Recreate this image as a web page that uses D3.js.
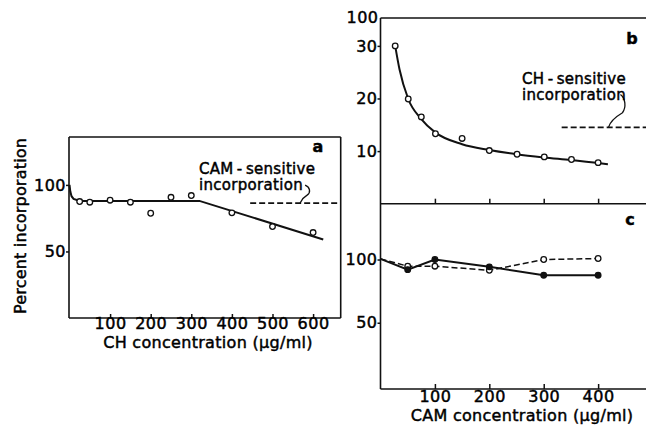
<!DOCTYPE html>
<html>
<head>
<meta charset="utf-8">
<script src="https://cdn.jsdelivr.net/npm/d3@7"></script>
<style>
  body { margin: 0; background: #fff; }
  svg text { font-family: "DejaVu Sans", sans-serif; fill: #000; stroke: #000; stroke-width: 0.45px; }
</style>
</head>
<body>
<div id="chart"></div>
<script>
// panel a: CH concentration vs percent incorporation
var aConc = [25, 50, 100, 150, 200, 250, 300, 400, 500, 600];
var aPercent = [87.5, 87, 88.5, 87, 78.7, 90.7, 92, 79, 68.7, 64.2];
var aFitConc = [0, 2, 5, 10, 20, 35, 320, 625];
var aFitPercent = [100, 95, 91.5, 89.5, 88.5, 88, 88, 59];
var aRefLevel = 86.3, aRefStart = 445, aLeaderAt = 568;
var aXTicks = [100, 200, 300, 400, 500, 600];
var aYTicks = [50, 100];

// panel b: CAM concentration, CH-sensitive incorporation
var bConc = [27, 51, 75, 101, 150, 200, 251, 301, 351, 400];
var bPercent = [30, 19.9, 16.5, 13.3, 12.4, 10.1, 9.4, 8.9, 8.4, 7.8];
var bFitConc = [27, 35, 51, 75, 100, 150, 200, 250, 300, 350, 418];
var bFitPercent = [30, 25.5, 19.9, 16.1, 13.6, 11.3, 10.2, 9.4, 8.8, 8.3, 7.5];
var bRefLevel = 14.5, bRefStart = 333, bLeaderAt = 419;
var bYTicks = [10, 20, 30];
var bTopLabel = '100';

// panel c: CAM concentration, two series
var cConc = [0, 50, 100, 200, 300, 400];
var cFilled = [100.5, 92, 100, 94.2, 87.6, 87.6];
var cOpen = [100.5, 94.7, 94.7, 91.5, 100, 100.8];
var cXTicks = [100, 200, 300, 400];
var cYTicks = [50, 100];

var svg = d3.select('#chart').append('svg')
  .attr('width', 646)
  .attr('height', 426);

var xa = d3.scaleLinear().domain([0, 668]).range([69.5, 340.7]);
var ya = d3.scaleLinear().domain([0, 136]).range([318, 137]);
var xb = d3.scaleLinear().domain([0, 488]).range([380.5, 646]);
var yb = d3.scaleLinear().domain([0, 35.3]).range([203.7, 18]);
var yc = d3.scaleLinear().domain([-2.4, 143.9]).range([389, 204]);

function styleAxis(g) {
  g.select('.domain').remove();
  g.selectAll('line').attr('stroke', '#111').attr('stroke-width', 1.5);
  g.selectAll('text').attr('fill', '#000').style('font-size', '16px')
    .style('letter-spacing', '0.5px')
    .style('font-family', '"DejaVu Sans", sans-serif');
}

function frameLine(x1, y1, x2, y2) {
  svg.append('line')
    .attr('x1', x1).attr('y1', y1).attr('x2', x2).attr('y2', y2)
    .attr('stroke', '#111').attr('stroke-width', 1.6);
}

function dots(data, xs, ys, fill) {
  svg.append('g').selectAll('circle')
    .data(data)
    .enter().append('circle')
      .attr('cx', function(d) { return xs(d[0]); })
      .attr('cy', function(d) { return ys(d[1]); })
      .attr('r', 2.8)
      .attr('fill', fill)
      .attr('stroke', '#111')
      .attr('stroke-width', 1.3);
}

// curly leader from the end of a label down to the reference line; h = drop height
function leader(px, py, h, w) {
  var k = h / 18;
  svg.append('path')
    .attr('d', 'M' + (px + w) + ',' + (py - 18 * k) +
      ' C' + (px + w + 5) + ',' + (py - 16 * k) + ' ' + (px + w + 6) + ',' + (py - 11 * k) + ' ' + (px + w + 2) + ',' + (py - 8 * k) +
      ' C' + (px + w * 0.4) + ',' + (py - 5 * k) + ' ' + (px + 1) + ',' + (py - 2 * k) + ' ' + px + ',' + py)
    .attr('fill', 'none')
    .attr('stroke', '#111')
    .attr('stroke-width', 1.3);
}

function label(x, y, txt) {
  return svg.append('text').attr('x', x).attr('y', y)
    .style('font-size', '15px').style('letter-spacing', '0.3px').text(txt);
}

// ---- panel a ----
frameLine(xa(0) - 0.5, ya(136), xa(668), ya(136));
frameLine(xa(668), ya(136), xa(668), ya(0));
frameLine(xa(0) - 0.5, ya(0), xa(668), ya(0));
frameLine(xa(0) - 0.5, ya(136), xa(0) - 0.5, ya(0));

svg.append('g')
  .attr('transform', 'translate(0,' + ya(0) + ')')
  .call(d3.axisBottom(xa).tickValues(aXTicks).tickSizeInner(-4).tickPadding(0))
  .call(styleAxis);

svg.append('g')
  .attr('transform', 'translate(' + (xa(0) - 0.5) + ',0)')
  .call(d3.axisLeft(ya).tickValues(aYTicks).tickSizeInner(3).tickPadding(0))
  .call(styleAxis);

var aFit = aFitConc.map(function(c, i) { return [c, aFitPercent[i]]; });
svg.append('path')
  .datum(aFit)
  .attr('d', d3.line().x(function(d) { return xa(d[0]); }).y(function(d) { return ya(d[1]); }))
  .attr('fill', 'none').attr('stroke', '#111').attr('stroke-width', 2);

dots(aConc.map(function(c, i) { return [c, aPercent[i]]; }), xa, ya, '#fff');

svg.append('line')
  .attr('x1', xa(aRefStart)).attr('x2', xa(668))
  .attr('y1', ya(aRefLevel)).attr('y2', ya(aRefLevel))
  .attr('stroke', '#111').attr('stroke-width', 1.6)
  .attr('stroke-dasharray', '6,3');
leader(xa(aLeaderAt), ya(aRefLevel), 18, 5);

label(199, 174, 'CAM\u2009-\u2009sensitive');
label(199, 190, 'incorporation');
svg.append('text').attr('x', 318).attr('y', 152).attr('text-anchor', 'middle')
  .style('font-size', '16px').style('font-weight', 'bold').text('a');

svg.append('text')
  .attr('transform', 'translate(26,226) rotate(-90)')
  .attr('text-anchor', 'middle')
  .style('font-size', '16px')
  .style('letter-spacing', '0.2px')
  .text('Percent  incorporation');

svg.append('text').attr('x', 208).attr('y', 348).attr('text-anchor', 'middle')
  .style('font-size', '16px').style('letter-spacing', '0.3px').text('CH concentration (\u03bcg/ml)');

// ---- panel b ----
frameLine(xb(0), yb(35.3), 646, yb(35.3));
frameLine(xb(0), yb(0), 646, yb(0));
frameLine(xb(0), yb(35.3), xb(0), yc(-2.4));

svg.append('g')
  .attr('transform', 'translate(0,' + yb(0) + ')')
  .call(d3.axisBottom(xb).tickValues(cXTicks).tickSizeInner(-5).tickFormat(''))
  .call(styleAxis);

svg.append('g')
  .attr('transform', 'translate(' + xb(0) + ',0)')
  .call(d3.axisLeft(yb).tickValues(bYTicks).tickSizeInner(3).tickPadding(0))
  .call(styleAxis);

svg.append('text').attr('x', xb(0) - 2).attr('y', yb(35.3) + 5).attr('text-anchor', 'end')
  .style('font-size', '16px').style('letter-spacing', '0.5px').text(bTopLabel);

var bFit = bFitConc.map(function(c, i) { return [c, bFitPercent[i]]; });
svg.append('path')
  .datum(bFit)
  .attr('d', d3.line().curve(d3.curveMonotoneX)
    .x(function(d) { return xb(d[0]); }).y(function(d) { return yb(d[1]); }))
  .attr('fill', 'none').attr('stroke', '#111').attr('stroke-width', 2);

dots(bConc.map(function(c, i) { return [c, bPercent[i]]; }), xb, yb, '#fff');

svg.append('line')
  .attr('x1', xb(bRefStart)).attr('x2', 646)
  .attr('y1', yb(bRefLevel)).attr('y2', yb(bRefLevel))
  .attr('stroke', '#111').attr('stroke-width', 1.6)
  .attr('stroke-dasharray', '6,3');
leader(xb(bLeaderAt), yb(bRefLevel), 33, 12);

label(522, 84, 'CH\u2009-\u2009sensitive');
label(522, 100, 'incorporation');
svg.append('text').attr('x', 632).attr('y', 44).attr('text-anchor', 'middle')
  .style('font-size', '16px').style('font-weight', 'bold').text('b');

// ---- panel c ----
frameLine(xb(0), yc(-2.4), 646, yc(-2.4));

svg.append('g')
  .attr('transform', 'translate(0,' + yc(-2.4) + ')')
  .call(d3.axisBottom(xb).tickValues(cXTicks).tickSizeInner(-5).tickPadding(2))
  .call(styleAxis);

svg.append('g')
  .attr('transform', 'translate(' + xb(0) + ',0)')
  .call(d3.axisLeft(yc).tickValues(cYTicks).tickSizeInner(3).tickPadding(0))
  .call(styleAxis);

var cLine = d3.line().x(function(d) { return xb(d[0]); }).y(function(d) { return yc(d[1]); });
var filledPts = cConc.map(function(c, i) { return [c, cFilled[i]]; });
var openPts = cConc.map(function(c, i) { return [c, cOpen[i]]; });

svg.append('path').datum(openPts).attr('d', cLine)
  .attr('fill', 'none').attr('stroke', '#111').attr('stroke-width', 1.5)
  .attr('stroke-dasharray', '6,3');
svg.append('path').datum(filledPts).attr('d', cLine)
  .attr('fill', 'none').attr('stroke', '#111').attr('stroke-width', 2);

dots(openPts.slice(1), xb, yc, '#fff');
dots(filledPts.slice(1), xb, yc, '#111');

svg.append('text').attr('x', 630).attr('y', 225).attr('text-anchor', 'middle')
  .style('font-size', '16px').style('font-weight', 'bold').text('c');

svg.append('text').attr('x', 522).attr('y', 421).attr('text-anchor', 'middle')
  .style('font-size', '16px').style('letter-spacing', '0.3px').text('CAM concentration (\u03bcg/ml)');
</script>
</body>
</html>
